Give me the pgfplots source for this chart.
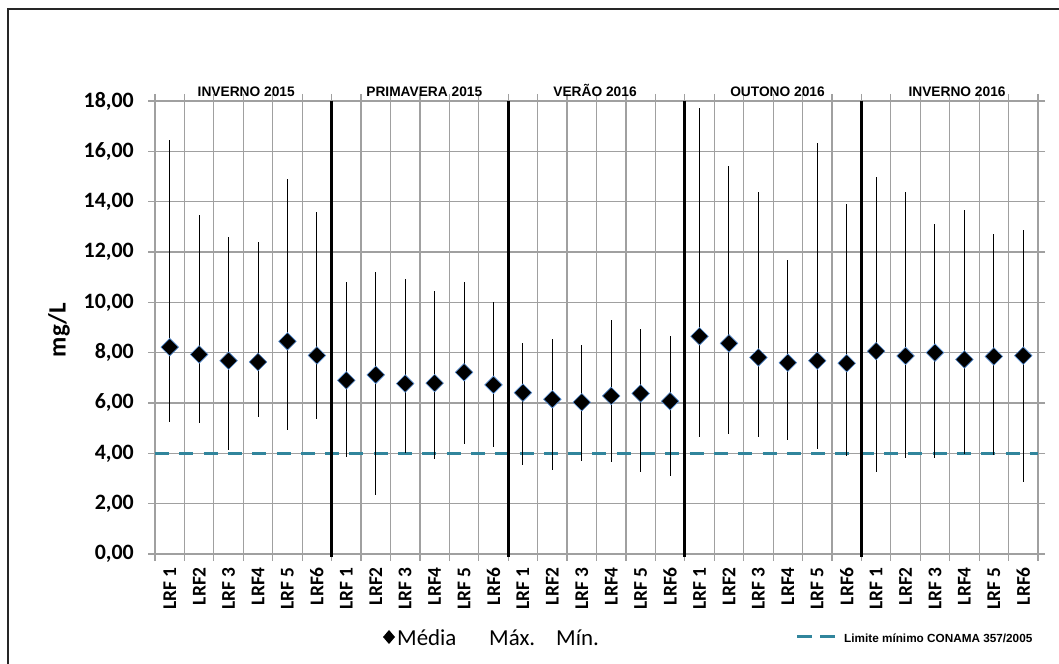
\documentclass[border=0pt]{standalone}
\usepackage{pgfplots}
\pgfplotsset{compat=1.18}
\usepackage{pgfplotstable}
\usepackage{fontspec}
\setmainfont{Carlito}
\newfontfamily\arialfont{Liberation Sans}

\definecolor{gridc}{RGB}{160,160,160}
\definecolor{conama}{RGB}{49,133,156}
\definecolor{mkedge}{RGB}{84,141,212}

\pgfplotstableread{
x mean max min
0.5  8.22 16.44 5.23
1.5  7.93 13.47 5.19
2.5  7.68 12.60 4.14
3.5  7.63 12.38 5.43
4.5  8.45 14.90 4.91
5.5  7.89 13.59 5.38
6.5  6.90 10.81 3.85
7.5  7.12 11.22 2.33
8.5  6.77 10.93 4.00
9.5  6.79 10.44 3.79
10.5 7.22 10.81 4.37
11.5 6.72 10.01 4.26
12.5 6.41 8.40 3.52
13.5 6.15 8.53 3.32
14.5 6.03 8.30 3.69
15.5 6.28 9.30 3.64
16.5 6.38 8.94 3.27
17.5 6.07 8.66 3.11
18.5 8.65 17.71 4.66
19.5 8.37 15.42 4.77
20.5 7.81 14.40 4.65
21.5 7.60 11.68 4.52
22.5 7.68 16.33 4.17
23.5 7.58 13.90 3.89
24.5 8.06 14.99 3.27
25.5 7.87 14.37 3.80
26.5 8.00 13.10 3.80
27.5 7.73 13.65 3.96
28.5 7.85 12.71 3.92
29.5 7.88 12.87 2.85
}\data

\begin{document}
\begin{tikzpicture}
\path[use as bounding box] (0bp,0bp) rectangle (1059bp,664bp);
\draw[line width=2bp, black!85] (8bp,0bp) -- (8bp,655bp) -- (1059bp,655bp);
\begin{axis}[
  at={(155bp,110bp)}, anchor=south west,
  scale only axis, width=883bp, height=453bp,
  xmin=0, xmax=30, ymin=0, ymax=18,
  ytick={0,2,...,18},
  xtick={0,1,...,30},
  x tick label as interval,
  xticklabels={LRF 1,LRF2,LRF 3,LRF4,LRF 5,LRF6,LRF 1,LRF2,LRF 3,LRF4,LRF 5,LRF6,LRF 1,LRF2,LRF 3,LRF4,LRF 5,LRF6,LRF 1,LRF2,LRF 3,LRF4,LRF 5,LRF6,LRF 1,LRF2,LRF 3,LRF4,LRF 5,LRF6},
  xmajorgrids, ymajorgrids,
  grid style={draw=gridc, line width=1.2bp},
  axis line style={draw=gridc, line width=1.2bp},
  tick style={draw=gridc, line width=1.2bp},
  tick align=outside,
  major tick length=7bp,
  xticklabel style={rotate=90, anchor=east, font=\bfseries\fontsize{19.5}{19.5}\selectfont, inner sep=0pt},
  x tick label style={xshift=-6bp},
  yticklabel style={font=\bfseries\fontsize{22}{22}\selectfont, inner sep=0pt, xshift=-14bp,
    /pgf/number format/.cd, fixed, fixed zerofill, precision=2, use comma, assume math mode=true},
  clip=false,
]
\addplot[conama, line width=3bp, dash pattern=on 14bp off 10.3bp] coordinates {(0,4) (30,4)};
\foreach \s in {6,12,18,24}{
  \edef\temp{\noexpand\draw[line width=3bp, black] (axis cs:\s,-0.1) -- (axis cs:\s,18);}
  \temp
}
\addplot[only marks, mark=square*, mark size=6.2bp,
  mark options={rotate=45, fill=black, draw=mkedge, line width=0.6bp},
  error bars/.cd, y dir=both, y explicit, error mark=none,
  error bar style={black, line width=1bp}]
  table[x=x, y=mean, y error plus expr=\thisrow{max}-\thisrow{mean}, y error minus expr=\thisrow{mean}-\thisrow{min}] {\data};
\begin{scope}[every node/.style={anchor=base, font=\arialfont\bfseries\fontsize{13.8}{13.8}\selectfont, yshift=4bp}]
\node at (axis cs:3.1,18) {INVERNO 2015};
\node at (axis cs:9.15,18) {PRIMAVERA 2015};
\node at (axis cs:14.95,18) {VERÃO 2016};
\node at (axis cs:21.15,18) {OUTONO 2016};
\node at (axis cs:27.25,18) {INVERNO 2016};
\end{scope}
\end{axis}
\node[rotate=90, font=\bfseries\fontsize{25}{25}\selectfont] at (59bp,334bp) {mg/L};
% legend
\fill[black] (389bp,34bp) -- (395bp,27bp) -- (389bp,20bp) -- (383bp,27bp) -- cycle;
\node[anchor=base west, inner sep=0pt, font=\fontsize{23}{23}\selectfont] at (397bp,19bp) {Média};
\node[anchor=base west, inner sep=0pt, font=\fontsize{23}{23}\selectfont] at (489bp,19bp) {Máx.};
\node[anchor=base west, inner sep=0pt, font=\fontsize{23}{23}\selectfont] at (556bp,19bp) {Mín.};
\draw[conama, line width=3bp] (797bp,27bp) -- (812bp,27bp);
\draw[conama, line width=3bp] (820bp,27bp) -- (835bp,27bp);
\node[anchor=base west, inner sep=0pt, font=\arialfont\bfseries\fontsize{11.8}{11.8}\selectfont] at (844bp,22bp) {Limite mínimo CONAMA 357/2005};
\end{tikzpicture}
\end{document}
